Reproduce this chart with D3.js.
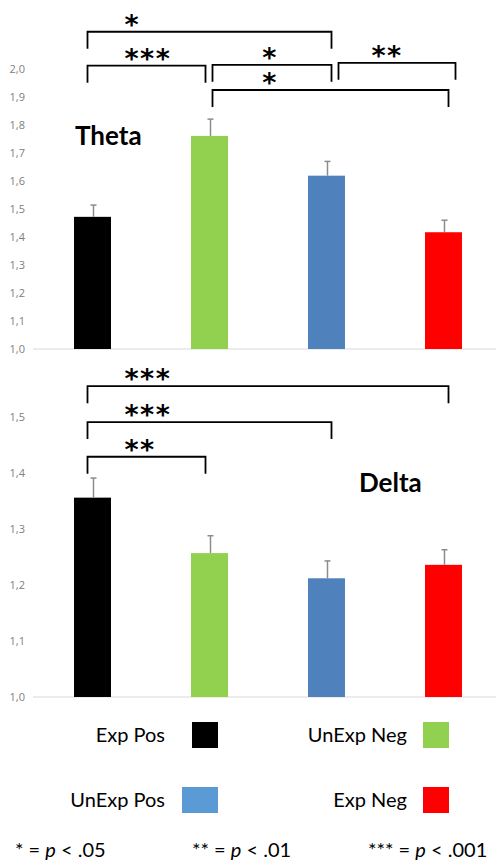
<!DOCTYPE html>
<html>
<head>
<meta charset="utf-8">
<script src="https://cdn.jsdelivr.net/npm/d3@7"></script>
<style>
  body { margin: 0; background: #fff; }
  svg { display: block; }
</style>
</head>
<body>
<div id="plot_area"></div>
<script>
// groups in bar order
const categories = ['Exp Pos', 'UnExp Neg', 'UnExp Pos', 'Exp Neg']
const barColors = ['#000000', '#92d050', '#4f81bd', '#ff0000']

// theta panel
const thetaMeans = [1.472, 1.761, 1.619, 1.417]
const thetaErr = [0.042, 0.060, 0.051, 0.043]
const thetaTicks = [1.0, 1.1, 1.2, 1.3, 1.4, 1.5, 1.6, 1.7, 1.8, 1.9, 2.0]
// [from, to, stars, bracket level]
const thetaSig = [
    [0, 2, '*', 2.133],
    [0, 1, '***', 2.012],
    [1, 2, '*', 2.015],
    [2, 3, '**', 2.022],
    [1, 3, '*', 1.925]
]

// delta panel
const deltaMeans = [1.356, 1.257, 1.212, 1.236]
const deltaErr = [0.035, 0.031, 0.031, 0.027]
const deltaTicks = [1.0, 1.1, 1.2, 1.3, 1.4, 1.5]
const deltaSig = [
    [0, 3, '***', 1.555],
    [0, 2, '***', 1.491],
    [0, 1, '**', 1.429]
]

const legendItems = ['Exp Pos', 'UnExp Neg', 'UnExp Pos', 'Exp Neg']
const legendColors = ['#000000', '#92d050', '#5b9bd5', '#ff0000']
const footnotes = [['*', '.05'], ['**', '.01'], ['***', '.001']]

const svgWidth = 496, svgHeight = 861

const svg = d3.select('#plot_area').append('svg')
    .attr('width', svgWidth)
    .attr('height', svgHeight)

const comma = d3.formatLocale({ decimal: ',', thousands: '.', grouping: [3], currency: ['', ''] }).format('.1f')

const x = d3.scaleBand()
    .domain(categories)
    .range([34, 502])
    .paddingInner(0.684)
    .paddingOuter(0.342)

function drawPanel(means, errs, ticks, sig, yTop, yBottom, title, titleX, titleY) {
    const y = d3.scaleLinear()
        .domain([ticks[0], ticks[ticks.length - 1]])
        .range([yBottom, yTop])

    const g = svg.append('g')

    // y labels
    const axis = g.append('g')
        .attr('transform', 'translate(33,0)')
        .call(d3.axisLeft(y).tickValues(ticks).tickFormat(comma).tickSize(0).tickPadding(8))
    axis.select('.domain').remove()
    axis.selectAll('text')
        .attr('fill', '#808080')
        .style('font-family', '"Open Sans", sans-serif')
        .style('font-size', '11px')

    // baseline
    g.append('line')
        .attr('x1', 33).attr('x2', svgWidth)
        .attr('y1', y(ticks[0])).attr('y2', y(ticks[0]))
        .attr('stroke', '#d9d9d9')
        .attr('stroke-width', 1)

    g.selectAll('rect.bar')
        .data(means)
        .enter()
        .append('rect')
        .attr('class', 'bar')
        .attr('x', (d, i) => x(categories[i]))
        .attr('width', x.bandwidth())
        .attr('y', d => y(d))
        .attr('height', d => y(ticks[0]) - y(d))
        .attr('fill', (d, i) => barColors[i])

    // error bars (upper half only)
    const eb = g.append('g')
        .attr('stroke', '#8c8c8c')
        .attr('stroke-width', 1.5)
    means.forEach((m, i) => {
        const cx = x(categories[i]) + x.bandwidth() / 2 + 1
        eb.append('line')
            .attr('x1', cx).attr('x2', cx)
            .attr('y1', y(m)).attr('y2', y(m + errs[i]))
        eb.append('line')
            .attr('x1', cx - 3).attr('x2', cx + 3)
            .attr('y1', y(m + errs[i])).attr('y2', y(m + errs[i]))
    })

    // significance brackets
    const legLen = 17
    sig.forEach(([a, b, stars, lvl]) => {
        const ca = x(categories[a]) + x.bandwidth() / 2
        const cb = x(categories[b]) + x.bandwidth() / 2
        const x1 = a === 0 ? ca - 5 : ca + 3
        const x2 = b === 1 ? cb - 4 : cb + (a === 2 ? 12 : 5)
        const x1s = a === 2 ? x1 + 9 : x1
        const top = y(lvl)
        g.append('path')
            .attr('d', `M${x1s},${top + legLen}V${top}H${x2}V${top + legLen}`)
            .attr('fill', 'none')
            .attr('stroke', '#000')
            .attr('stroke-width', 1.8)

        const t = g.append('text')
            .attr('y', top + 2)
            .attr('font-family', '"DejaVu Sans", sans-serif')
            .attr('font-weight', 'bold')
            .attr('font-size', 27)
            .attr('letter-spacing', 1.5)
            .attr('fill', '#000')
            .text(stars)
        if (a === 0) {
            t.attr('x', ca + 32).attr('text-anchor', 'start')
        } else {
            const next = x(categories[a + 1]) + x.bandwidth() / 2
            t.attr('x', (ca + next) / 2 + 2).attr('text-anchor', 'middle')
        }
    })

    g.append('text')
        .attr('x', titleX)
        .attr('y', titleY)
        .attr('font-family', 'Lato, sans-serif')
        .attr('font-weight', 'bold')
        .attr('font-size', 26)
        .attr('fill', '#000')
        .text(title)
}

drawPanel(thetaMeans, thetaErr, thetaTicks, thetaSig, 69, 349, 'Theta', 75, 145)
drawPanel(deltaMeans, deltaErr, deltaTicks, deltaSig, 417, 697, 'Delta', 359, 492)

// legend, two columns
const legend = svg.append('g')
legendItems.forEach((name, i) => {
    const col = i % 2, row = Math.floor(i / 2)
    const tx = col === 0 ? 165 : 407
    const cy = row === 0 ? 735 : 800
    legend.append('text')
        .attr('x', tx)
        .attr('y', cy + 7)
        .attr('text-anchor', 'end')
        .attr('font-family', 'Lato, sans-serif')
        .attr('font-size', 20)
        .attr('fill', '#000')
        .text(name)
    const w = i === 2 ? 36 : 26
    legend.append('rect')
        .attr('x', col === 0 ? 218 - w : 423)
        .attr('y', cy - 13)
        .attr('width', w)
        .attr('height', 26)
        .attr('fill', legendColors[i])
})

// p-value key
const keyX = [15, 192, 368]
footnotes.forEach(([stars, p], i) => {
    const t = svg.append('text')
        .attr('x', keyX[i])
        .attr('y', 857)
        .attr('font-family', 'Lato, sans-serif')
        .attr('font-size', 20)
        .attr('fill', '#000')
    t.append('tspan').text(stars + ' = ')
    t.append('tspan').attr('font-style', 'italic').text('p')
    t.append('tspan').text(' < ' + p)
})
</script>
</body>
</html>
